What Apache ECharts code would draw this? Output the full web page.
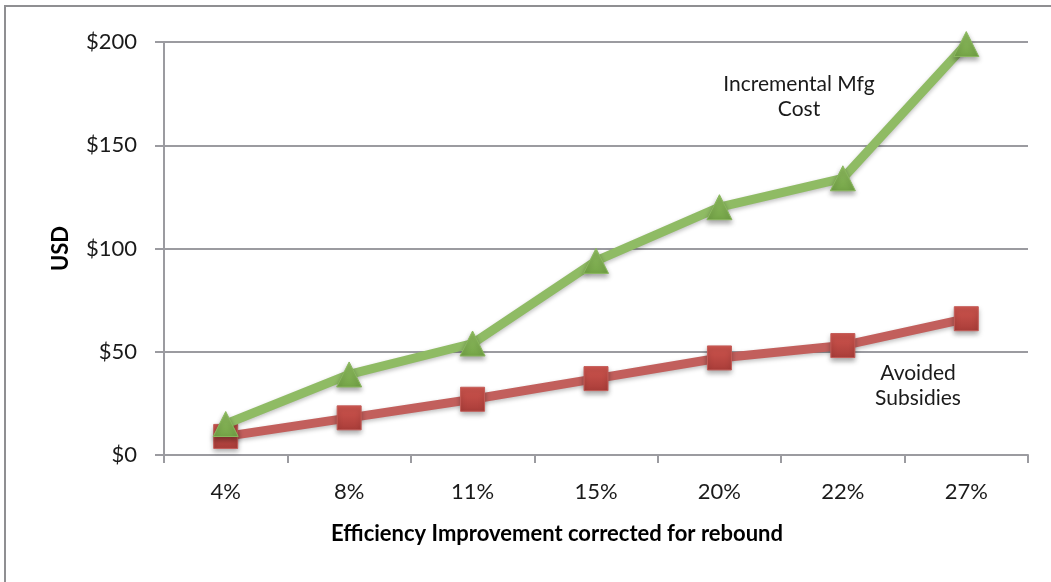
<!DOCTYPE html>
<html>
<head>
<meta charset="utf-8">
<script src="https://cdn.jsdelivr.net/npm/echarts@6/dist/echarts.min.js"></script>
<style>
html,body{margin:0;padding:0;background:#fff;}
#chart{width:1051px;height:582px;}
</style>
</head>
<body>
<div id="chart"></div>
<script>
var categories = ['4%', '8%', '11%', '15%', '20%', '22%', '27%'];
var avoidedSubsidies = [9, 18, 27, 37, 47, 53, 66];
var incrementalMfgCost = [15, 39, 54, 94, 120, 134, 199];
var yTicks = { min: 0, max: 200, interval: 50 };

var FONT = 'Lato';
var GRID_COLOR = '#9b9ba0';
var chart = echarts.init(document.getElementById('chart'));
chart.setOption({
  animation: false,
  backgroundColor: '#fff',
  grid: { left: 164, right: 23, top: 42, bottom: 127, containLabel: false },
  graphic: [
    { type: 'rect', shape: { x: 5, y: 6, width: 1200, height: 700 }, style: { fill: 'none', stroke: '#8f8f92', lineWidth: 2 }, z: 0 },
    { type: 'text', x: 799, y: 97, style: { text: 'Incremental Mfg\nCost', font: '21px ' + FONT, fill: '#1a1a1a', textAlign: 'center', textVerticalAlign: 'middle', lineHeight: 25 } },
    { type: 'text', x: 918, y: 386, style: { text: 'Avoided\nSubsidies', font: '21px ' + FONT, fill: '#1a1a1a', textAlign: 'center', textVerticalAlign: 'middle', lineHeight: 25 } }
  ],
  xAxis: {
    type: 'category',
    data: categories,
    boundaryGap: true,
    name: 'Efficiency Improvement corrected for rebound',
    nameLocation: 'middle',
    nameGap: 68,
    nameTextStyle: { fontFamily: FONT, fontWeight: 'bold', fontSize: 22, color: '#000', padding: [0, 78, 0, 0] },
    axisLine: { lineStyle: { color: GRID_COLOR, width: 2 } },
    axisTick: { show: true, length: 8, lineStyle: { color: GRID_COLOR, width: 2 } },
    axisLabel: { fontFamily: FONT, fontSize: 22, color: '#1a1a1a', margin: 26 },
    splitLine: { show: false }
  },
  yAxis: {
    type: 'value',
    min: yTicks.min, max: yTicks.max, interval: yTicks.interval,
    name: 'USD',
    nameLocation: 'middle',
    nameGap: 92,
    nameRotate: 90,
    nameTextStyle: { fontFamily: FONT, fontWeight: 'bold', fontSize: 22, color: '#000' },
    axisLine: { show: true, lineStyle: { color: GRID_COLOR, width: 2 } },
    axisTick: { show: true, length: 9, lineStyle: { color: GRID_COLOR, width: 2 } },
    axisLabel: { fontFamily: FONT, fontSize: 22, color: '#1a1a1a', margin: 27, formatter: function (v) { return '$' + v; } },
    splitLine: { show: true, lineStyle: { color: GRID_COLOR, width: 2 } }
  },
  series: [
    {
      name: 'Avoided Subsidies',
      type: 'line',
      data: avoidedSubsidies,
      symbol: 'rect',
      symbolSize: 24,
      z: 3,
      lineStyle: { color: '#c25f5c', width: 9, shadowColor: 'rgba(0,0,0,0.25)', shadowBlur: 4, shadowOffsetY: 2 },
      itemStyle: {
        color: new echarts.graphic.LinearGradient(0, 0, 0, 1, [{ offset: 0, color: '#d0564f' }, { offset: 1, color: '#a93d39' }]),
        borderColor: '#c45c58', borderWidth: 1,
        shadowColor: 'rgba(0,0,0,0.35)', shadowBlur: 5, shadowOffsetY: 3
      }
    },
    {
      name: 'Incremental Mfg Cost',
      type: 'line',
      data: incrementalMfgCost,
      symbol: 'triangle',
      symbolSize: 25,
      z: 4,
      lineStyle: { color: '#8fbb64', width: 9, shadowColor: 'rgba(0,0,0,0.25)', shadowBlur: 4, shadowOffsetY: 2 },
      itemStyle: {
        color: new echarts.graphic.LinearGradient(0, 0, 0, 1, [{ offset: 0, color: '#92c062' }, { offset: 1, color: '#74a447' }]),
        borderColor: '#8ab85e', borderWidth: 1,
        shadowColor: 'rgba(0,0,0,0.35)', shadowBlur: 5, shadowOffsetY: 3
      }
    }
  ]
});
</script>
</body>
</html>
